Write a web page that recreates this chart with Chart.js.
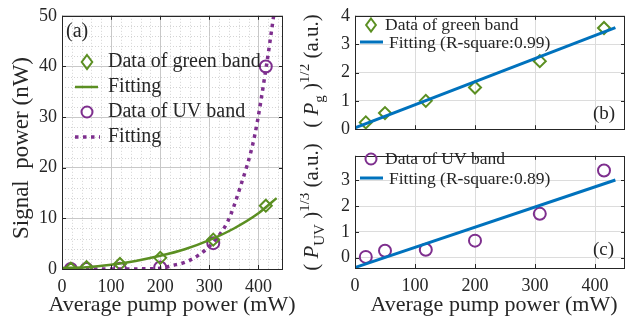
<!DOCTYPE html>
<html>
<head>
<meta charset="utf-8">
<script src="https://cdn.jsdelivr.net/npm/chart.js@4.4.1/dist/chart.umd.min.js"></script>
<style>
  html, body { margin: 0; padding: 0; background: #fff; }
  #wrap { position: relative; width: 633px; height: 320px; overflow: hidden; }
  canvas { position: absolute; }
</style>
</head>
<body>
<div id="wrap">
  <canvas id="chartA" width="300" height="320" style="left:0;top:0;"></canvas>
  <canvas id="chartB" width="333" height="145" style="left:300px;top:0;"></canvas>
  <canvas id="chartC" width="333" height="180" style="left:300px;top:140px;"></canvas>
</div>
<script>
// ================= DATA =================
// pump power of the six measurements (mW)
const pumpPower = [18, 50, 118, 200, 308, 415];

// panel (a): signal power (nW)
const greenSignal = [0.06, 0.34, 1.0, 2.2, 5.8, 12.5];
const uvSignal = [0.0, 0.02, 0.03, 0.29, 5.1, 40.0];
const greenFitX = [0, 50, 100, 150, 200, 250, 300, 350, 400, 437];
const greenFitY = [0.2, 0.35, 0.85, 1.6, 2.6, 3.9, 5.7, 8.0, 11.0, 14.0];
const uvFitX = [0, 100, 150, 200, 225, 250, 276, 310, 338, 362, 392, 416, 431];
const uvFitY = [0, 0, 0.02, 0.15, 0.7, 1.3, 2.6, 5.5, 9.5, 15.9, 26.2, 40, 50];

// panel (b): (Pg)^1/2
const greenRoot = [0.24, 0.57, 1.0, 1.47, 2.4, 3.57];
const greenRootFitX = [0, 434];
const greenRootFitY = [0.05, 3.58];

// panel (c): (Puv)^1/3
const uvRoot = [0.03, 0.27, 0.31, 0.66, 1.7, 3.38];
const uvRootFitX = [0, 434];
const uvRootFitY = [-0.38, 3.01];

// tick labels
const xTicks = [0, 100, 200, 300, 400];
const yTicksA = [0, 10, 20, 30, 40, 50];
const yTicksB = [0, 1, 2, 3, 4];
const yTicksC = [0, 1, 2, 3];

// ================= STYLE =================
const GREEN = '#5b8f22';
const PURPLE = '#7e2f8e';
const BLUE = '#0072bd';
const INK = '#262626';
const SERIF = '"Liberation Serif", "Times New Roman", serif';

Chart.defaults.font.family = SERIF;
Chart.defaults.color = INK;

function pts(xs, ys) {
    return xs.map((x, i) => ({ x: x, y: ys[i] }));
}

// --- small drawing helpers ---
function drawDiamond(ctx, x, y, r, color) {
    ctx.save();
    ctx.strokeStyle = color; ctx.lineWidth = 2;
    ctx.beginPath();
    ctx.moveTo(x, y - r); ctx.lineTo(x + r * 0.75, y); ctx.lineTo(x, y + r); ctx.lineTo(x - r * 0.75, y);
    ctx.closePath(); ctx.stroke();
    ctx.restore();
}

function drawCircle(ctx, x, y, r, color) {
    ctx.save();
    ctx.strokeStyle = color; ctx.lineWidth = 2;
    ctx.beginPath(); ctx.arc(x, y, r, 0, Math.PI * 2); ctx.stroke();
    ctx.restore();
}

function drawSample(ctx, x1, x2, y, color, width, dash) {
    ctx.save();
    ctx.strokeStyle = color; ctx.lineWidth = width;
    ctx.setLineDash(dash || []);
    ctx.beginPath(); ctx.moveTo(x1, y); ctx.lineTo(x2, y); ctx.stroke();
    ctx.restore();
}

function drawText(ctx, txt, x, y, size, align) {
    ctx.save();
    ctx.fillStyle = INK;
    ctx.font = size + 'px ' + SERIF;
    ctx.textAlign = align || 'left';
    ctx.textBaseline = 'middle';
    ctx.fillText(txt, x, y);
    ctx.restore();
}

// rotated (bottom to top) label made of pieces: {t, size, italic, dy}
function drawVerticalRich(ctx, parts, baseX, centerY) {
    ctx.save();
    ctx.fillStyle = INK;
    ctx.textBaseline = 'alphabetic';
    let total = 0;
    parts.forEach(p => {
        ctx.font = (p.italic ? 'italic ' : '') + p.size + 'px ' + SERIF;
        p.w = ctx.measureText(p.t).width;
        total += p.w;
    });
    ctx.translate(baseX, centerY);
    ctx.rotate(-Math.PI / 2);
    let x = -total / 2;
    parts.forEach(p => {
        ctx.font = (p.italic ? 'italic ' : '') + p.size + 'px ' + SERIF;
        ctx.fillText(p.t, x, p.dy || 0);
        x += p.w;
    });
    ctx.restore();
}

// frame, inward ticks, minor grid and annotations in MATLAB style
function axesPlugin(cfg) {
    return {
        id: 'axesStyle',
        beforeDatasetsDraw(chart) {
            if (!cfg.minor) return;
            const ctx = chart.ctx, a = chart.chartArea;
            const xs = chart.scales.x, ys = chart.scales.y;
            ctx.save();
            ctx.strokeStyle = '#d4d4d4'; ctx.lineWidth = 1;
            ctx.setLineDash([1, 2]);
            for (let v = cfg.minor.x; v < xs.max; v += cfg.minor.x) {
                if (v % 100 === 0) continue;
                const px = Math.round(xs.getPixelForValue(v)) + 0.5;
                ctx.beginPath(); ctx.moveTo(px, a.top); ctx.lineTo(px, a.bottom); ctx.stroke();
            }
            for (let v = cfg.minor.y; v < ys.max; v += cfg.minor.y) {
                if (v % 10 === 0) continue;
                const py = Math.round(ys.getPixelForValue(v)) + 0.5;
                ctx.beginPath(); ctx.moveTo(a.left, py); ctx.lineTo(a.right, py); ctx.stroke();
            }
            ctx.restore();
        },
        afterDraw(chart) {
            const ctx = chart.ctx, a = chart.chartArea;
            const xs = chart.scales.x, ys = chart.scales.y;
            ctx.save();
            ctx.strokeStyle = INK; ctx.lineWidth = 1;
            ctx.strokeRect(Math.round(a.left) + 0.5, Math.round(a.top) + 0.5,
                Math.round(a.right - a.left) - 1, Math.round(a.bottom - a.top));
            const tl = 4;
            xs.ticks.forEach(t => {
                const px = Math.round(xs.getPixelForValue(t.value)) + 0.5;
                ctx.beginPath();
                ctx.moveTo(px, a.bottom); ctx.lineTo(px, a.bottom - tl);
                ctx.moveTo(px, a.top); ctx.lineTo(px, a.top + tl);
                ctx.stroke();
            });
            ys.ticks.forEach(t => {
                const py = Math.round(ys.getPixelForValue(t.value)) + 0.5;
                ctx.beginPath();
                ctx.moveTo(a.left, py); ctx.lineTo(a.left + tl, py);
                ctx.moveTo(a.right, py); ctx.lineTo(a.right - tl, py);
                ctx.stroke();
            });
            ctx.restore();
            cfg.draw(ctx, a);
        }
    };
}

function baseScales(xOpts, yOpts) {
    return {
        x: {
            type: 'linear', min: 0, max: 450,
            afterBuildTicks: s => { s.ticks = xTicks.map(v => ({ value: v })); },
            afterFit: s => { s.height = xOpts.height; },
            grid: { color: xOpts.gridColor, drawTicks: false },
            border: { display: false },
            ticks: { display: xOpts.labels, padding: 7, font: { size: 18 }, color: INK, maxRotation: 0 }
        },
        y: {
            type: 'linear', min: yOpts.min, max: yOpts.max,
            afterBuildTicks: s => { s.ticks = yOpts.ticks.map(v => ({ value: v })); },
            afterFit: s => { s.width = yOpts.width; },
            grid: { color: yOpts.gridColor, drawTicks: false },
            border: { display: false },
            ticks: { padding: 5, font: { size: 18 }, color: INK }
        }
    };
}

const commonOptions = {
    responsive: false,
    devicePixelRatio: 1,
    animation: false,
    plugins: { legend: { display: false }, tooltip: { enabled: false } }
};

// ================= PANEL (a) =================
new Chart(document.getElementById('chartA'), {
    type: 'scatter',
    data: {
        datasets: [
            { data: pts(greenFitX, greenFitY), showLine: true, borderColor: GREEN, borderWidth: 2.5,
              pointRadius: 0, cubicInterpolationMode: 'monotone' },
            { data: pts(uvFitX, uvFitY), showLine: true, borderColor: PURPLE, borderWidth: 3.5,
              borderDash: [3.5, 4.5], pointRadius: 0, cubicInterpolationMode: 'monotone' },
            { data: pts(pumpPower, greenSignal), pointStyle: 'rectRot', pointRadius: 6,
              borderColor: GREEN, backgroundColor: 'rgba(0,0,0,0)', borderWidth: 2 },
            { data: pts(pumpPower, uvSignal), pointStyle: 'circle', pointRadius: 6,
              borderColor: PURPLE, backgroundColor: 'rgba(0,0,0,0)', borderWidth: 2 }
        ]
    },
    options: {
        ...commonOptions,
        layout: { padding: { left: 0, right: 17, top: 10, bottom: 0 } },
        scales: baseScales(
            { height: 51, labels: true, gridColor: '#c8c8c8' },
            { min: 0, max: 50, ticks: yTicksA, width: 62, gridColor: '#c8c8c8' }
        )
    },
    plugins: [axesPlugin({
        minor: { x: 20, y: 2 },
        draw(ctx, a) {
            drawText(ctx, '(a)', 66, 32, 20);
            drawDiamond(ctx, 87, 62, 7, GREEN);
            drawText(ctx, 'Data of green band', 108, 62, 20);
            drawSample(ctx, 75, 98, 87, GREEN, 2.5);
            drawText(ctx, 'Fitting', 108, 87, 20);
            drawCircle(ctx, 87, 112, 5.5, PURPLE);
            drawText(ctx, 'Data of UV band', 108, 112, 20);
            drawSample(ctx, 75, 100, 137, PURPLE, 3.5, [3.5, 4.5]);
            drawText(ctx, 'Fitting', 108, 137, 20);
            drawText(ctx, 'Average pump power (mW)', 172, 305, 22, 'center');
            drawVerticalRich(ctx, [{ t: 'Signal  power (nW)', size: 23 }], 28, 148);
        }
    })]
});

// ================= PANEL (b) =================
new Chart(document.getElementById('chartB'), {
    type: 'scatter',
    data: {
        datasets: [
            { data: pts(greenRootFitX, greenRootFitY), showLine: true, borderColor: BLUE, borderWidth: 3, pointRadius: 0 },
            { data: pts(pumpPower, greenRoot), pointStyle: 'rectRot', pointRadius: 6,
              borderColor: GREEN, backgroundColor: 'rgba(0,0,0,0)', borderWidth: 2 }
        ]
    },
    options: {
        ...commonOptions,
        layout: { padding: { left: 0, right: 1, top: 10, bottom: 0 } },
        scales: baseScales(
            { height: 14, labels: false, gridColor: '#dcdcdc' },
            { min: 0, max: 4, ticks: yTicksB, width: 55, gridColor: '#dcdcdc' }
        )
    },
    plugins: [axesPlugin({
        draw(ctx, a) {
            drawDiamond(ctx, 71, 25, 6.5, GREEN);
            drawText(ctx, 'Data of green band', 85, 25, 17.5);
            drawSample(ctx, 60, 83, 42, BLUE, 3);
            drawText(ctx, 'Fitting (R-square:0.99)', 89, 43, 17.5);
            drawText(ctx, '(b)', 293, 114, 19);
            drawVerticalRich(ctx, [
                { t: '( ', size: 21 },
                { t: 'P', size: 21, italic: true },
                { t: 'g', size: 15, dy: 6 },
                { t: ' )', size: 21 },
                { t: '1/2', size: 15, dy: -9 },
                { t: ' (a.u.)', size: 21 }
            ], 18, 71);
        }
    })]
});

// ================= PANEL (c) =================
new Chart(document.getElementById('chartC'), {
    type: 'scatter',
    data: {
        datasets: [
            { data: pts(uvRootFitX, uvRootFitY), showLine: true, borderColor: BLUE, borderWidth: 3, pointRadius: 0 },
            { data: pts(pumpPower, uvRoot), pointStyle: 'circle', pointRadius: 6,
              borderColor: PURPLE, backgroundColor: 'rgba(0,0,0,0)', borderWidth: 2 }
        ]
    },
    options: {
        ...commonOptions,
        layout: { padding: { left: 0, right: 1, top: 5, bottom: 0 } },
        scales: baseScales(
            { height: 52, labels: true, gridColor: '#dcdcdc' },
            { min: -0.4, max: 3.95, ticks: yTicksC, width: 55, gridColor: '#dcdcdc' }
        )
    },
    plugins: [axesPlugin({
        draw(ctx, a) {
            drawCircle(ctx, 71, 19, 5.5, PURPLE);
            drawText(ctx, 'Data of UV band', 85, 19, 17.5);
            drawSample(ctx, 60, 83, 38, BLUE, 3);
            drawText(ctx, 'Fitting (R-square:0.89)', 89, 39, 17.5);
            drawText(ctx, '(c)', 293, 110, 19);
            drawText(ctx, 'Average pump power (mW)', 194, 165, 22, 'center');
            drawVerticalRich(ctx, [
                { t: '( ', size: 21 },
                { t: 'P', size: 21, italic: true },
                { t: 'UV', size: 15, dy: 6 },
                { t: ' )', size: 21 },
                { t: '1/3', size: 15, dy: -9 },
                { t: ' (a.u.)', size: 21 }
            ], 18, 67);
        }
    })]
});
</script>
</body>
</html>
